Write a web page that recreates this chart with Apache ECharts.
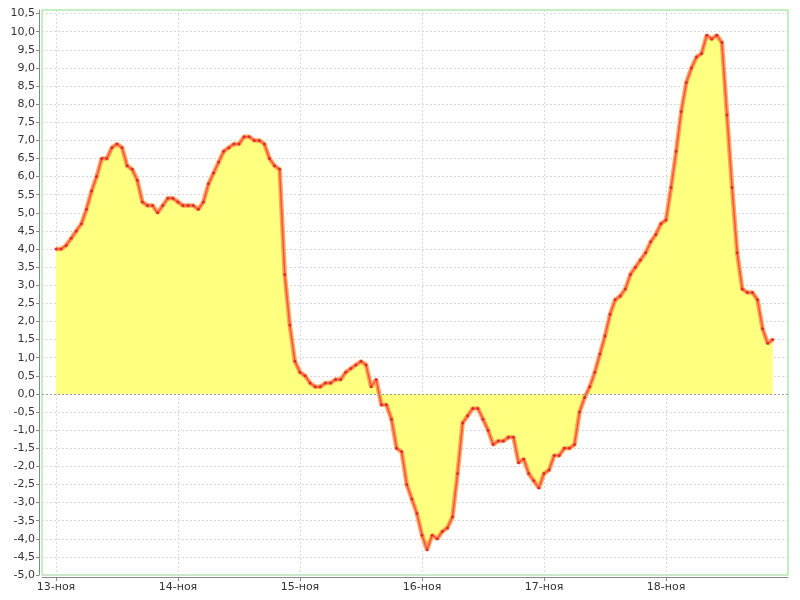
<!DOCTYPE html>
<html>
<head>
<meta charset="utf-8">
<script src="https://cdn.jsdelivr.net/npm/echarts@6/dist/echarts.min.js"></script>
<style>html,body{margin:0;padding:0;background:#fff}#c{width:800px;height:600px}</style>
</head>
<body>
<div id="c"></div>
<script>
// Tick labels for each day start (hour offsets 0,24,...,120)
var dayLabels = ['13-ноя', '14-ноя', '15-ноя', '16-ноя', '17-ноя', '18-ноя'];
var dayTickHours = [0, 24, 48, 72, 96, 120];
// Y ticks every 0.5 from -5.0 to 10.5
var yTicks = [];
for (var t = -10; t <= 21; t++) { yTicks.push(t / 2); }
// Hourly values starting 13-ноя 00:00
var values = [
  4.0, 4.0, 4.1, 4.3, 4.5, 4.7, 5.1, 5.6, 6.0, 6.5, 6.5, 6.8, 6.9, 6.8, 6.3, 6.2, 5.9, 5.3, 5.2, 5.2, 5.0, 5.2, 5.4, 5.4,
  5.3, 5.2, 5.2, 5.2, 5.1, 5.3, 5.8, 6.1, 6.4, 6.7, 6.8, 6.9, 6.9, 7.1, 7.1, 7.0, 7.0, 6.9, 6.5, 6.3, 6.2, 3.3, 1.9, 0.9,
  0.6, 0.5, 0.3, 0.2, 0.2, 0.3, 0.3, 0.4, 0.4, 0.6, 0.7, 0.8, 0.9, 0.8, 0.2, 0.4, -0.3, -0.3, -0.7, -1.5, -1.6, -2.5, -2.9, -3.3,
  -3.9, -4.3, -3.9, -4.0, -3.8, -3.7, -3.4, -2.2, -0.8, -0.6, -0.4, -0.4, -0.7, -1.0, -1.4, -1.3, -1.3, -1.2, -1.2, -1.9, -1.8, -2.2, -2.4, -2.6,
  -2.2, -2.1, -1.7, -1.7, -1.5, -1.5, -1.4, -0.5, -0.1, 0.2, 0.6, 1.1, 1.6, 2.2, 2.6, 2.7, 2.9, 3.3, 3.5, 3.7, 3.9, 4.2, 4.4, 4.7,
  4.8, 5.7, 6.7, 7.8, 8.6, 9.0, 9.3, 9.4, 9.9, 9.8, 9.9, 9.7, 7.7, 5.7, 3.9, 2.9, 2.8, 2.8, 2.6, 1.8, 1.4, 1.5
];

var points = values.map(function (v, i) { return [i, v]; });

var chart = echarts.init(document.getElementById('c'), null, {renderer: 'canvas'});
var font = 'DejaVu Sans';
chart.setOption({
  animation: false,
  backgroundColor: '#ffffff',
  grid: {
    left: 42, right: 12, top: 10, bottom: 25,
    show: true, borderColor: '#88e088', borderWidth: 1, backgroundColor: 'transparent'
  },
  xAxis: {
    type: 'value',
    min: -2.75, max: 144,
    offset: 2,
    axisLine: {show: true, onZero: false, lineStyle: {color: '#888', width: 1}},
    axisTick: {show: true, length: 4, lineStyle: {color: '#888'}, customValues: dayTickHours},
    axisLabel: {
      customValues: dayTickHours,
      color: '#333', fontFamily: font, fontSize: 11, margin: 5,
      formatter: function (v) { return dayLabels[Math.round(v / 24)] || ''; }
    },
    splitLine: {show: true, lineStyle: {color: '#d8d8d8', type: [2, 2], width: 1}}
  },
  yAxis: {
    type: 'value',
    min: -5, max: 10.6,
    offset: 3,
    axisLine: {show: true, onZero: false, lineStyle: {color: '#888', width: 1}},
    axisTick: {show: true, length: 3, lineStyle: {color: '#888'}, customValues: yTicks},
    axisLabel: {
      customValues: yTicks,
      color: '#333', fontFamily: font, fontSize: 11, margin: 4,
      formatter: function (v) { return v.toFixed(1).replace('.', ','); }
    },
    splitLine: {show: true, lineStyle: {color: '#d8d8d8', type: [2, 2], width: 1}}
  },
  series: [
    {
      type: 'line',
      data: points,
      showSymbol: false,
      symbol: 'none',
      lineStyle: {color: 'rgba(255,150,60,0.85)', width: 4.5},
      areaStyle: {color: '#ffff80', opacity: 1},
      markLine: {
        silent: true,
        symbol: 'none',
        label: {show: false},
        lineStyle: {color: '#999', type: [2, 2], width: 1},
        data: [{yAxis: 0}]
      },
      z: 2
    },
    {
      type: 'line',
      data: points,
      symbol: 'circle',
      symbolSize: 3,
      showSymbol: true,
      itemStyle: {color: '#d83030', borderWidth: 0},
      lineStyle: {color: '#ff5050', width: 1.5},
      z: 3
    }
  ]
});
</script>
</body>
</html>
